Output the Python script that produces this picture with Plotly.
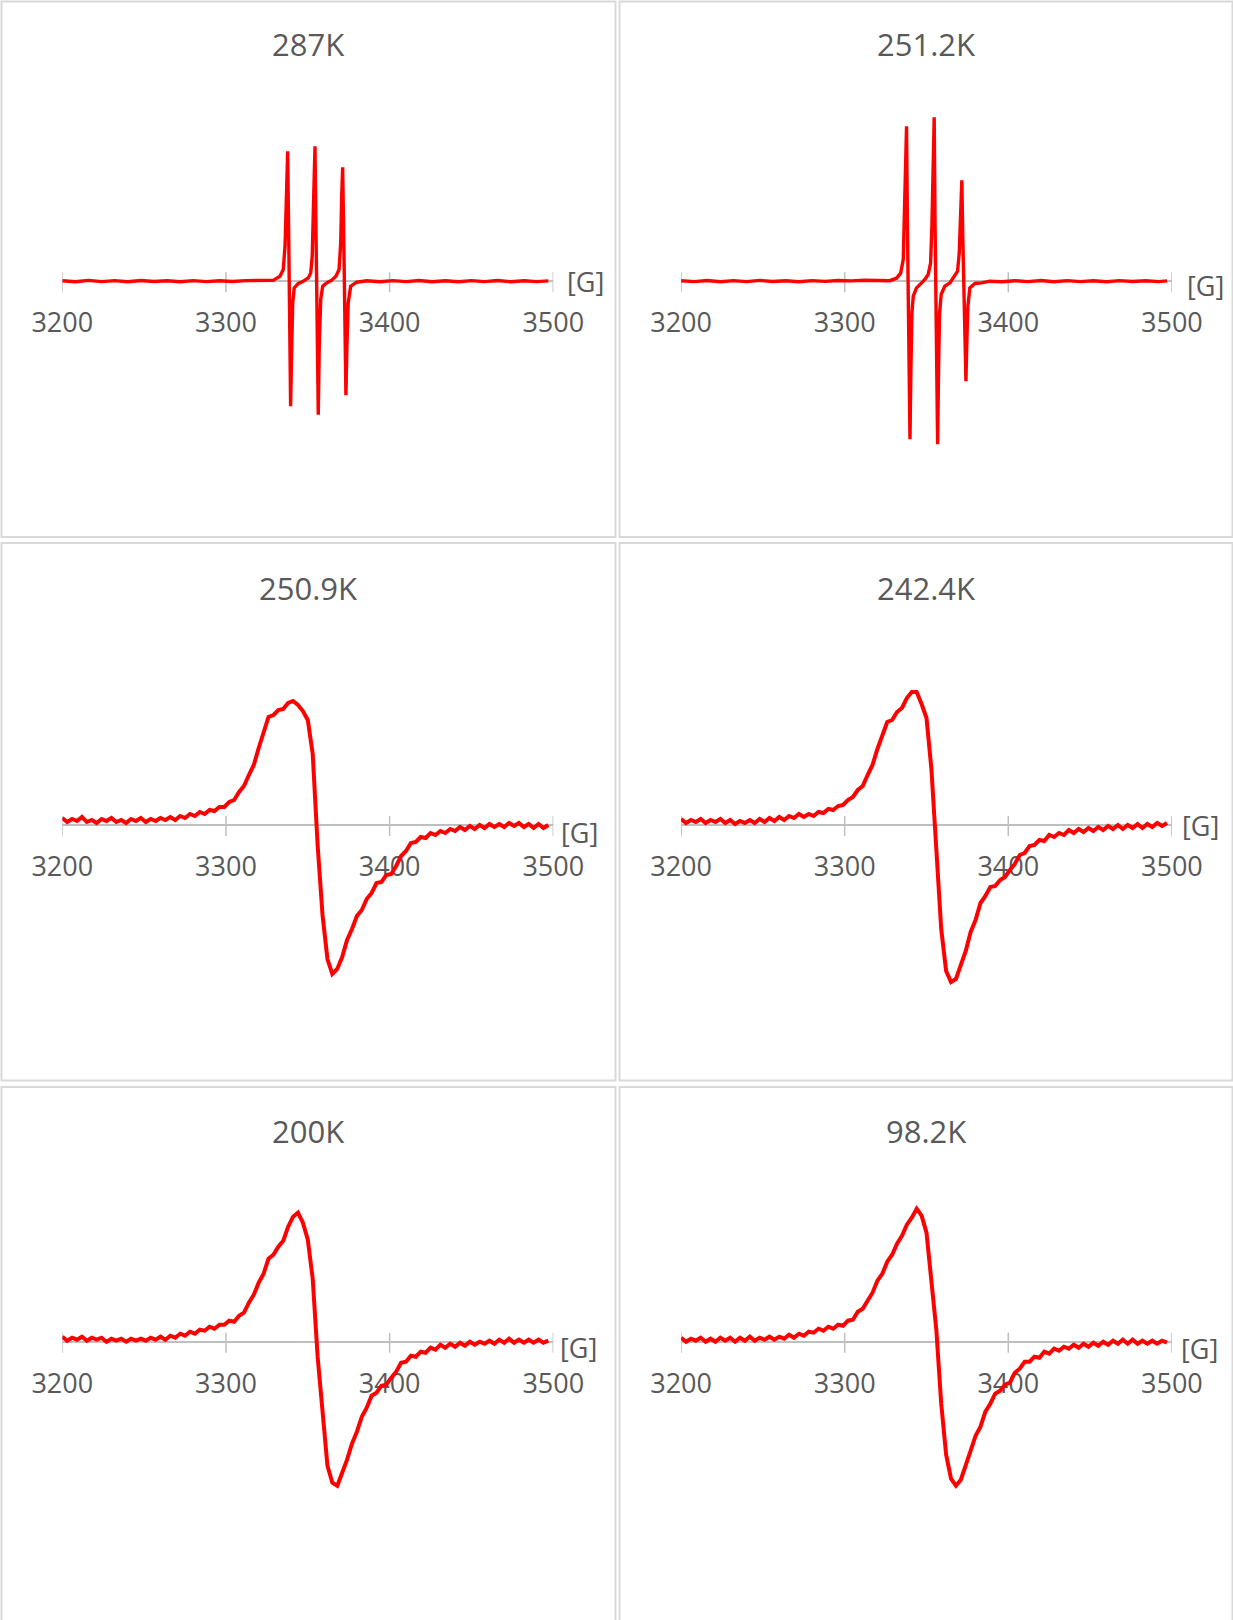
import plotly.graph_objects as go

# ---------------- data ----------------
TITLES = ["287K", "251.2K", "250.9K", "242.4K", "200K", "98.2K"]
TICKS = [3200, 3300, 3400, 3500]
UNIT_LABEL = "[G]"

# field sweep used for the broad spectra (Gauss)
FIELD_GRID = list(range(3200, 3500, 3))

# 287K : three sharp lines
X_287 = [3200, 3208, 3216, 3224, 3232, 3240, 3248, 3256, 3264, 3272, 3280, 3288, 3296, 3304,
         3312, 3320, 3328.9, 3333.0, 3335.0, 3336.1, 3337.1, 3337.7, 3338.3, 3338.7, 3339.1,
         3339.5, 3340.2, 3340.8, 3341.7, 3344.2, 3347.2, 3350.3, 3351.8, 3352.7, 3353.6, 3354.4,
         3355.0, 3355.6, 3356.0, 3356.4, 3357.0, 3357.9, 3359.1, 3361.5, 3364.6, 3367.2, 3369.1,
         3370.1, 3370.7, 3371.3, 3371.9, 3372.5, 3372.9, 3373.3, 3373.9, 3374.7, 3376.2, 3379.9,
         3386, 3394, 3402, 3410, 3418, 3426, 3434, 3442, 3450, 3458, 3466, 3474, 3482, 3490, 3497]
Y_287 = [0.5, -0.5, 0.8, -0.4, 0.6, -0.6, 0.7, -0.3, 0.5, -0.5, 0.6, -0.4, 0.5, -0.3,
         0.6, 0.4, 0.8, 5, 11.7, 35, 101, 130, 51, -32, -98,
         -125, -65, -21.7, -6.7, -2.3, 0, 3.3, 8.3, 25, 85, 135,
         51.7, -48, -108, -133.5, -65, -18, -5, -1.7, 1, 5, 11.7,
         38, 85, 114, 51.7, -48, -88, -114, -65, -21.7, -5, -1,
         0.5, -0.5, 0.6, -0.4, 0.7, -0.5, 0.5, -0.6, 0.6, -0.4, 0.7, -0.5, 0.5, -0.4, 0.3]

# 251.2K : three sharp lines
X_251_2 = [3200, 3208, 3216, 3224, 3232, 3240, 3248, 3256, 3264, 3272, 3280, 3288, 3296, 3304,
           3312, 3320, 3327.6, 3331.7, 3334.2, 3335.8, 3336.6, 3337.2, 3337.8, 3338.4, 3339.1,
           3339.4, 3339.9, 3340.5, 3341.1, 3341.9, 3343.9, 3347.0, 3349.0, 3351.0, 3352.5, 3353.3,
           3353.9, 3354.7, 3355.3, 3355.9, 3356.4, 3356.8, 3357.4, 3358.0, 3359.0, 3361.2, 3364.3,
           3367.3, 3369.0, 3370.0, 3370.8, 3371.6, 3372.2, 3372.9, 3373.5, 3374.1, 3374.7, 3375.3,
           3376.5, 3379.6, 3383.7, 3388.7, 3396, 3404, 3412, 3420, 3428, 3436, 3444, 3452, 3460,
           3468, 3476, 3484, 3492, 3497]
Y_251_2 = [0.5, -0.4, 0.7, -0.5, 0.6, -0.4, 0.8, -0.3, 0.5, -0.5, 0.6, -0.2, 0.7, 0.3,
           0.9, 0.6, 0.5, 3, 8, 22, 65, 115, 155, 48, -68,
           -135, -158, -85, -32, -15, -6.7, -1.7, 1.7, 6.7, 18, 55,
           115, 164, 48, -68, -135, -163, -85, -32, -13, -5, -1.7,
           5, 10, 28, 72, 101, 42, -25, -72, -100, -58, -25,
           -6.7, -2.3, -1.7, 0, -0.6, 0.5, -0.4, 0.7, -0.5, 0.6, -0.4, 0.5, -0.6,
           0.6, -0.3, 0.5, -0.4, 0.3]

# broad spectra sampled on FIELD_GRID
Y_250_9 = [7, 3, 6, 4, 8, 3, 5, 2, 6, 4,
           7, 3, 5, 2, 6, 4, 7, 3, 6, 4,
           7, 5, 8, 5, 9, 7, 11, 9, 13, 11,
           15, 14, 18, 18, 23, 25, 33, 39, 50, 60,
           77, 93, 108, 110, 115, 116, 122, 124, 120, 114,
           105, 71, -20, -90, -134, -149, -144, -132, -115, -104,
           -91, -85, -74, -68, -58, -57, -50, -49, -41, -31,
           -26, -18, -17, -12, -13, -8, -10, -6, -8, -4,
           -6, -2, -5, -1, -4, 0, -3, 1, -2, 1,
           -2, 2, -1, 2, -2, 1, -3, 1, -3, 0]

Y_242_4 = [6, 2, 5, 3, 6, 2, 5, 3, 6, 2,
           5, 1, 4, 2, 5, 2, 6, 3, 7, 4,
           8, 5, 9, 7, 11, 8, 11, 9, 13, 12,
           16, 15, 19, 20, 25, 28, 35, 39, 50, 60,
           76, 89, 103, 105, 113, 117, 127, 133, 133, 121,
           107, 56, -26, -104, -146, -157, -154, -140, -126, -107,
           -95, -78, -71, -62, -61, -55, -52, -45, -39, -30,
           -28, -21, -20, -15, -16, -10, -12, -8, -10, -5,
           -8, -4, -7, -3, -6, -2, -5, -1, -4, 0,
           -4, 0, -3, 1, -3, 1, -2, 2, -1, 2]

Y_200 = [5, 1, 4, 2, 5, 1, 4, 2, 4, 0,
         3, 1, 3, 0, 3, 1, 3, 1, 4, 2,
         5, 2, 6, 4, 8, 6, 10, 8, 12, 11,
         15, 13, 17, 17, 21, 20, 26, 29, 39, 47,
         59, 68, 83, 87, 95, 101, 115, 125, 129, 119,
         102, 63, -15, -74, -124, -141, -144, -131, -118, -102,
         -90, -75, -66, -54, -51, -44, -43, -36, -30, -21,
         -20, -14, -15, -10, -11, -6, -8, -3, -6, -2,
         -5, -1, -4, 0, -3, 0, -2, 1, -2, 2,
         -1, 3, -1, 2, -1, 2, -1, 2, -1, 1]

Y_98_2 = [4, 0, 3, 1, 4, 0, 3, 0, 4, 1,
          4, 0, 4, 1, 5, 1, 4, 2, 5, 2,
          5, 3, 7, 4, 8, 6, 10, 9, 13, 11,
          15, 13, 17, 16, 21, 22, 30, 33, 41, 49,
          61, 68, 80, 87, 98, 106, 117, 124, 133, 126,
          109, 65, 12, -62, -113, -137, -144, -138, -122, -109,
          -94, -85, -70, -62, -52, -49, -43, -41, -31, -27,
          -20, -20, -15, -16, -10, -12, -7, -9, -5, -7,
          -3, -6, -2, -5, -1, -4, 0, -3, 1, -2,
          2, -2, 2, -2, 1, -2, 1, -2, 1, -1]

SERIES = [
    (X_287, Y_287),
    (X_251_2, Y_251_2),
    (FIELD_GRID, Y_250_9),
    (FIELD_GRID, Y_242_4),
    (FIELD_GRID, Y_200),
    (FIELD_GRID, Y_98_2),
]

# ---------------- layout (pixel geometry) ----------------
W, H = 1233, 1620
FONT = "Open Sans"
TXT = "#595959"
AXC = "#bfbfbf"

COL_X = [(62.3, 553.3), (681.1, 1171.9)]       # pixel of 3200 and 3500
ROW_ZERO = [281.2, 825.0, 1341.7]              # pixel of the zero line
TITLE_Y = [44.5, 587.8, 1130.8]
COL_CX = [308.0, 926.0]
G_POS = [(585, 281.5), (1205.6, 286), (579, 832), (1200.8, 825), (578, 1347), (1199, 1348)]
COL_BOX = [(1.5, 615.5), (619.5, 1232.5)]
ROW_BOX = [(1.5, 537.0), (543.0, 1080.5), (1087.0, 1625.0)]
HALF = 200.0   # half-height of each plotting window, in data units (= px)
LINE_W = [3.4, 3.4, 4.0, 4.0, 4.0, 4.0]


def px(x):
    return x / W


def py(y):
    return 1 - y / H


fig = go.Figure()
layout = dict(
    width=W, height=H, margin=dict(l=0, r=0, t=0, b=0, pad=0, autoexpand=False),
    paper_bgcolor="white", plot_bgcolor="rgba(0,0,0,0)",
    showlegend=False, shapes=[], annotations=[],
)

for i, (xs, ys) in enumerate(SERIES):
    r, c = divmod(i, 2)
    n = "" if i == 0 else str(i + 1)
    xref, yref = "x" + n, "y" + n
    z = ROW_ZERO[r]
    x0, x1 = COL_X[c]
    fig.add_trace(go.Scatter(
        x=xs, y=ys, mode="lines", xaxis=xref, yaxis=yref,
        line=dict(color="#ff0000", width=LINE_W[i]), hoverinfo="skip",
    ))
    layout["xaxis" + n] = dict(
        domain=[px(x0), px(x1)], range=[3200, 3500], anchor="free", position=py(z),
        showline=True, linecolor=AXC, linewidth=1.5, ticks="", tickvals=TICKS,
        ticktext=[str(t) for t in TICKS], showgrid=False, zeroline=False,
        tickfont=dict(family=FONT, size=27, color=TXT), layer="below traces",
        ticklabelstandoff=18, automargin=False,
    )
    layout["yaxis" + n] = dict(
        domain=[py(z + HALF), py(z - HALF)], range=[-HALF, HALF], anchor=xref,
        visible=False, showgrid=False, zeroline=False, automargin=False,
    )
    for t in TICKS:
        layout["shapes"].append(dict(
            type="line", xref=xref, yref=yref, x0=t, x1=t, y0=-11, y1=9,
            line=dict(color=AXC, width=1.5), layer="below",
        ))
    bx0, bx1 = COL_BOX[c]
    by0, by1 = ROW_BOX[r]
    layout["shapes"].append(dict(
        type="rect", xref="paper", yref="paper", x0=px(bx0), x1=px(bx1),
        y0=py(by1), y1=py(by0), line=dict(color="#d9d9d9", width=2), layer="below",
    ))
    layout["annotations"].append(dict(
        text=TITLES[i], xref="paper", yref="paper", x=px(COL_CX[c]), y=py(TITLE_Y[r]),
        xanchor="center", yanchor="middle", showarrow=False,
        font=dict(family=FONT, size=31, color=TXT),
    ))
    gx, gy = G_POS[i]
    layout["annotations"].append(dict(
        text=UNIT_LABEL, xref="paper", yref="paper", x=px(gx), y=py(gy),
        xanchor="center", yanchor="middle", showarrow=False,
        font=dict(family=FONT, size=27, color=TXT),
    ))

fig.update_layout(**layout)
fig.write_html("out.html", post_script="document.body.style.margin='0';",
               config={"displayModeBar": False})
